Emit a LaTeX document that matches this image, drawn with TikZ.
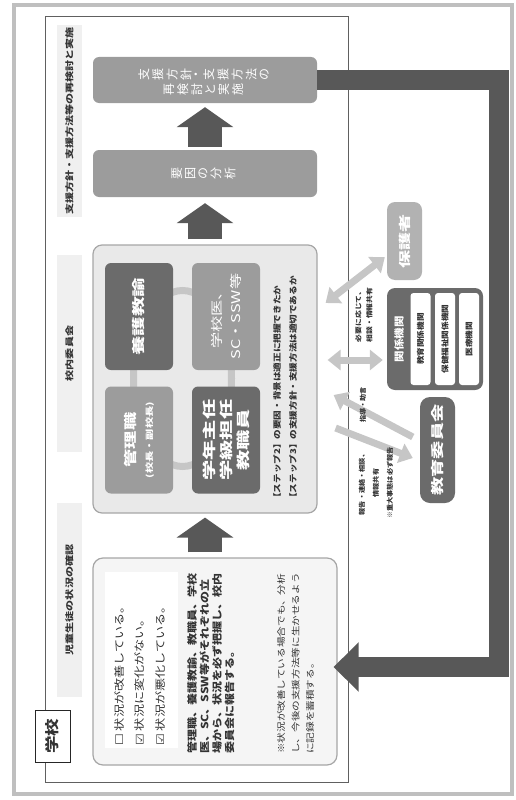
\documentclass[tikz,border=0pt]{standalone}
\usepackage{fontspec}
\setmainfont{Noto Sans CJK JP}
\newfontfamily\symfont{DejaVu Sans}
\usepackage{tikz}
\usetikzlibrary{calc,arrows.meta,positioning}

\definecolor{darkbox}{HTML}{6B6B6B}
\definecolor{midbox}{HTML}{9C9C9C}
\definecolor{arrowgray}{HTML}{585858}
\definecolor{linkgray}{HTML}{C6C6C6}
\definecolor{panelgray}{HTML}{E9E9E9}
\definecolor{stripgray}{HTML}{F0F0F0}
\definecolor{textgray}{HTML}{333333}

% one column of vertical writing
\newcommand\tatecol[1]{$\vcenter{\offinterlineskip\tatecolloop#1\relax}$}
\def\tatecolloop#1{\ifx\relax#1\else\hbox to 1em{\hss#1\hss}\kern3pt\expandafter\tatecolloop\fi}

\tikzset{
  box/.style={rounded corners=6pt, inner sep=0pt},
  vtxt/.style={rotate=90, inner sep=0pt, align=center},
  up/.style={arrowgray, line width=34pt, -{Triangle[length=20pt 0 0, width=56pt 0 0]}},
  light/.style={linkgray, line width=7pt, -{Triangle[length=13pt 0 0, width=20pt 0 0]}},
  lightboth/.style={linkgray, line width=7pt, {Triangle[length=13pt 0 0, width=20pt 0 0]}-{Triangle[length=13pt 0 0, width=20pt 0 0]}},
}

\begin{document}
\begin{tikzpicture}[x=1pt, y=-1pt, every node/.append style={text=textgray}]
    \useasboundingbox (0,0) rectangle (516,800);

    % draw frames
    \draw[gray!50, line width=4pt] (14,5) rectangle (512,794);
    \draw[gray!75!black, line width=0.8pt] (45,16) rectangle (348,782);

    % draw stage strips
    \foreach \ya/\yb/\lab [count=\i] in {25/217/支援方針・支援方法等の再検討と実施, 255/452/校内委員会, 503/697/児童生徒の状況の確認}
    {
      \fill[stripgray] (57,\ya) rectangle (82,\yb);
      \node[vtxt, font=\bfseries\fontsize{8.5}{10}\selectfont, xscale=1.3] (strip\i) at (69.5,{(\ya+\yb)/2}) {\lab};
    }

    % draw steps
    \node[box, fill=midbox, minimum width=224pt, minimum height=46pt] (plan) at (205,80) {};
    \node[rotate=90, inner sep=0pt, text=white, font=\fontsize{12}{14}\selectfont] (plantxt) at (205,82)
          {\tatecol{再検討と実施}\hspace{2pt}\tatecol{支援方針・支援方法の}};
    \node[box, fill=midbox, minimum width=224pt, minimum height=47pt] (analysis) at (205,173.5) {};
    \node[rotate=90, inner sep=0pt, text=white, font=\fontsize{12}{14}\selectfont] (analysistxt) at (analysis)
          {\tatecol{要因の分析}};

    \node[box, rounded corners=9pt, fill=panelgray, draw=gray!70, line width=1.2pt,
          minimum width=224pt, minimum height=268pt] (panel) at (205,379) {};
    \draw[linkgray, line width=7pt] (182.5,378.5) ellipse (49pt and 88pt);

    \node[box, fill=darkbox, minimum width=68pt, minimum height=107pt] (yogo) at (139,316.5) {};
    \node[box, fill=midbox, minimum width=68pt, minimum height=107pt] (doctor) at (226,316.5) {};
    \node[box, fill=midbox, minimum width=68pt, minimum height=107pt] (head) at (139,440) {};
    \node[box, fill=darkbox, minimum width=68pt, minimum height=107pt] (teacher) at (226,440) {};

    \node[vtxt, text=white, font=\bfseries\fontsize{13}{15}\selectfont, xscale=1.5] (yogotxt) at (yogo) {養護教諭};
    \node[vtxt, text=white, font=\fontsize{12}{19}\selectfont, xscale=1.35] (doctortxt) at (doctor) {学校医、\\SC・SSW等};
    \node[vtxt, text=white, font=\bfseries\fontsize{13}{17}\selectfont, xscale=1.4] (headtxt) at (head)
          {管理職\\{\fontsize{8}{10}\selectfont (校長・副校長)}};
    \node[vtxt, text=white, font=\bfseries\fontsize{13.5}{17}\selectfont, xscale=1.5] (teachertxt) at (teacher)
          {学年主任\\学級担任\\教職員};

    \node[vtxt, align=left, anchor=north west, font=\bfseries\fontsize{8}{16}\selectfont, xscale=1.2] (steps) at (273,503)
          {【ステップ2】の要因・背景は適正に把握できたか\\【ステップ3】の支援方針・支援方法は適切であるか};

    % draw check box
    \node[box, rounded corners=10pt, fill=gray!8, draw=gray!70, line width=1.2pt,
          minimum width=244pt, minimum height=207pt] (check) at (215,661.5) {};
    \node[fill=white, minimum width=73pt, minimum height=176pt, inner sep=0pt] (checklist) at (141.5,660) {};
    \node[vtxt, align=left, anchor=north west, font=\fontsize{10.5}{20.5}\selectfont, xscale=1.25] (checks) at (114,746)
          {{\symfont ☐}\ 状況が改善している。\\{\symfont ☑}\ 状況に変化がない。\\{\symfont ☑}\ 状況が悪化している。};
    \node[vtxt, align=left, anchor=north west, font=\bfseries\fontsize{10}{12.5}\selectfont, xscale=1.2] (staff) at (187,754)
          {管理職、養護教諭、教職員、学校\\医、SC、SSW等がそれぞれの立\\場から、状況を必ず把握し、校内\\委員会に報告する。};
    \node[vtxt, align=left, anchor=north west, font=\fontsize{8.5}{14.5}\selectfont, xscale=1.25] (note) at (277,754)
          {※状況が改善している場合でも、分析\\し、今後の支援方法等に生かせるよう\\に記録を蓄積する。};

    % draw school label
    \node[draw=gray!30!black, line width=1pt, fill=white, minimum width=35pt, minimum height=52pt, inner sep=0pt] (school) at (52.5,736) {};
    \node[vtxt, font=\bfseries\fontsize{14}{16}\selectfont, xscale=1.25] (schooltxt) at (school) {学校};

    % draw outside partners
    \node[box, rounded corners=8pt, fill=gray!60, minimum width=35pt, minimum height=78pt] (guardian) at (404.5,241) {};
    \node[vtxt, text=white, font=\bfseries\fontsize{12}{14}\selectfont, xscale=1.5] (guardiantxt) at (guardian) {保護者};

    \node[box, rounded corners=8pt, fill=darkbox, minimum width=96pt, minimum height=102pt] (agency) at (435,339) {};
    \node[vtxt, text=white, font=\bfseries\fontsize{10}{12}\selectfont, xscale=1.15] (agencytxt) at (399,339) {関係機関};
    \foreach \xc/\lab [count=\i] in {420.5/教育関係機関, 445/保健福祉関係機関, 469/医療機関}
    {
      \node[box, rounded corners=3pt, fill=white, minimum width=20pt, minimum height=92pt] (org\i) at (\xc,339) {};
      \node[vtxt, font=\bfseries\fontsize{7.5}{9}\selectfont, xscale=1.15] (orgtxt\i) at (org\i) {\lab};
    }

    \node[box, rounded corners=10pt, fill=darkbox, minimum width=35pt, minimum height=106pt] (board) at (437.5,450) {};
    \node[vtxt, text=white, font=\bfseries\fontsize{13}{15}\selectfont, xscale=1.4] (boardtxt) at (board) {教育委員会};

    % draw arrows
    \draw[up, shorten <=3pt, shorten >=4pt] (analysis.north) -- (plan.south);
    \draw[up, shorten <=5pt, shorten >=6pt] (panel.north) -- (analysis.south);
    \draw[up, shorten <=5pt, shorten >=4pt] (panel.south |- check.north) -- (panel.south);

    \draw[arrowgray, line width=20pt, -{Triangle[length=25pt 0 0, width=48pt 0 0]}]
          (plan.east) -- ++(182,0) |- ($(check.east)+(-4,5.5)$);

    \draw[lightboth] ($(panel.east)+(8,-76)$) -- ($(guardian.south west)+(-2,-23)$);
    \draw[lightboth] ($(panel.east)+(10,-19)$) -- ($(agency.west)+(-4,21)$);
    \draw[light] ($(board.west)+(-7,-13)$) -- ($(panel.east)+(16,16)$);
    \draw[light] ($(panel.east)+(18,49)$) -- ($(board.west)+(-7,8)$);

    % draw arrow labels
    \node[vtxt, font=\bfseries\fontsize{6.5}{11}\selectfont, xscale=1.2] (consult) at (364,315) {必要に応じて、\\相談・情報共有};
    \node[vtxt, font=\bfseries\fontsize{6.5}{8}\selectfont, xscale=1.1] (guide) at (363,405) {指導・助言};
    \node[vtxt, font=\bfseries\fontsize{6.5}{14}\selectfont, xscale=1.1] (report) at (376,483)
          {報告・連絡・相談、\\情報共有\\※重大事態は必ず報告};

\end{tikzpicture}
\end{document}
